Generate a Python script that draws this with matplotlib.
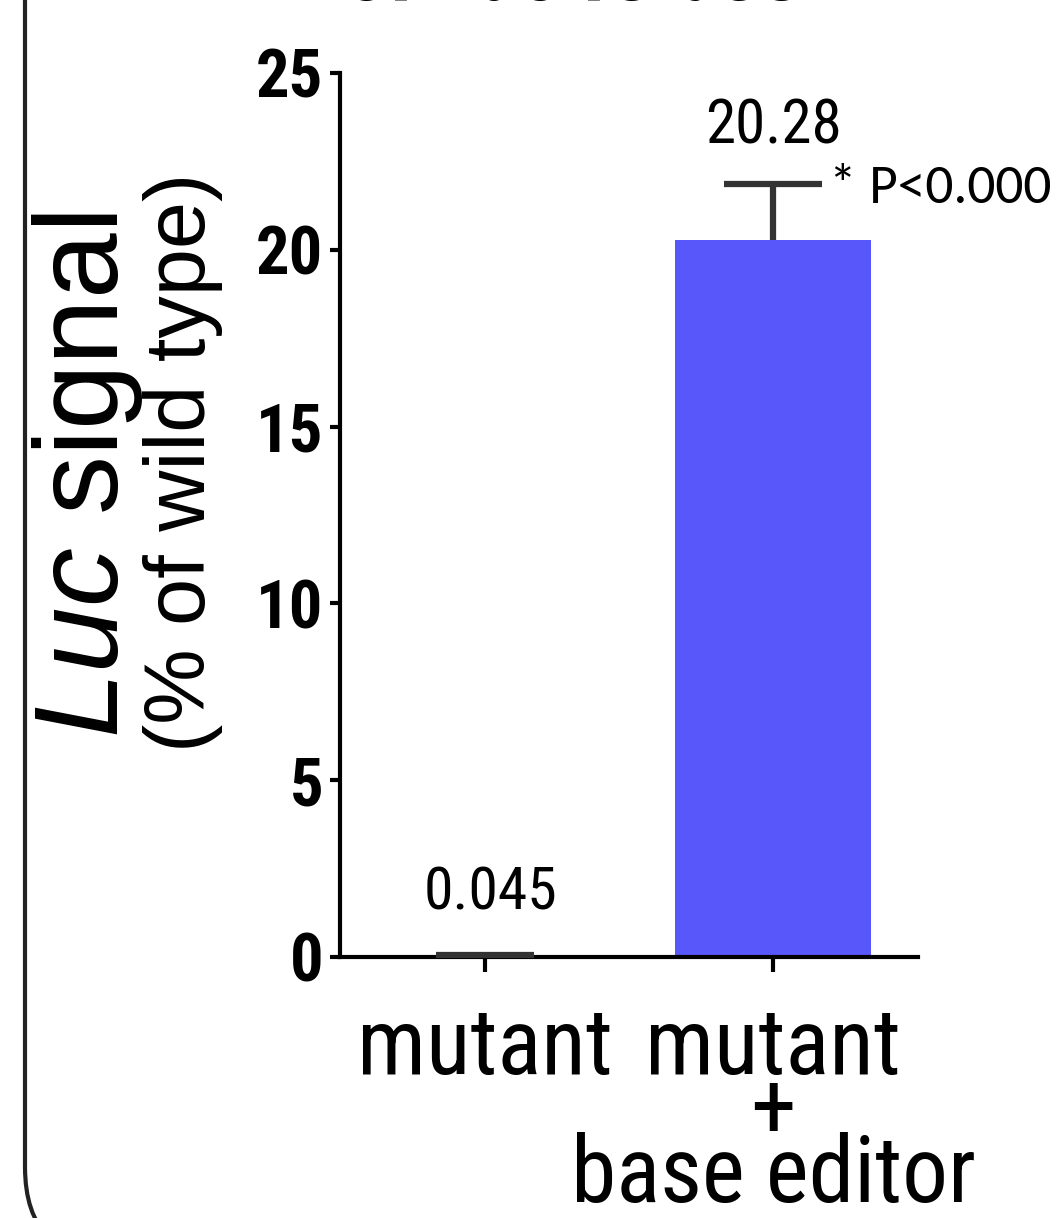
import matplotlib
matplotlib.use("Agg")
import matplotlib.pyplot as plt
from matplotlib.patches import FancyBboxPatch

# ---- data ----
categories = ["mutant", "mutant\n+\nbase editor"]
values = [0.045, 20.28]
errors = [0.0, 1.58]
value_labels = ["0.045", "20.28"]
yticks = [0, 5, 10, 15, 20, 25]
sig_label = "* P<0.0001"
title_text = "of Luciferase:"

NARROW = ["Roboto Condensed", "DejaVu Sans"]
REG = ["Liberation Sans", "DejaVu Sans"]
CAL = ["Carlito", "Liberation Sans", "DejaVu Sans"]

plt.rcParams["mathtext.fontset"] = "custom"
plt.rcParams["mathtext.it"] = "Liberation Sans:italic"
plt.rcParams["mathtext.rm"] = "Liberation Sans"

W, H = 1056, 1218
fig = plt.figure(figsize=(W / 100, H / 100), dpi=100)
ax = fig.add_axes([340 / W, 261 / H, 578 / W, 884 / H])

bar_color = "#5757FA"
x = list(range(len(categories)))
ax.bar(x, values, width=0.68, color=bar_color, zorder=2)
eb = ax.errorbar(x, values, yerr=[[0] * len(errors), errors], fmt="none",
                 ecolor="#333333", elinewidth=4.5, capsize=35, capthick=4.5,
                 zorder=3)
eb[1][0].set_visible(False)  # hide lower caps (SD shown above only)

ax.set_xlim(-0.503, 1.503)
ax.set_ylim(0, 25)
ax.set_yticks(yticks)
ax.set_yticklabels([str(t) for t in yticks], fontfamily=NARROW,
                   fontweight="bold", fontsize=48)
ax.set_xticks(x)
ax.set_xticklabels(categories, fontfamily=NARROW, fontsize=66,
                   linespacing=0.64, va="top")
ax.tick_params(axis="y", length=7, width=3, pad=5)
ax.tick_params(axis="x", length=11, width=3, pad=23)
for s in ["top", "right"]:
    ax.spines[s].set_visible(False)
for s in ["left", "bottom"]:
    ax.spines[s].set_linewidth(3)

ax.text(0.02, 1.33, value_labels[0], ha="center", va="baseline",
        fontfamily=NARROW, fontsize=43)
ax.text(1, 23.02, value_labels[1], ha="center", va="baseline",
        fontfamily=NARROW, fontsize=44)
ax.text(1.195, 21.32, sig_label, ha="left", va="baseline",
        fontfamily=CAL, fontsize=40, clip_on=False)

# y labels
fig.text(118 / W, 1 - 475 / H, r"$\mathit{Luc}$" + " signal", rotation=90,
         rotation_mode="anchor", ha="center", va="baseline",
         fontfamily=REG, fontsize=85)
fig.text(205 / W, 1 - 462 / H, "(% of wild type)", rotation=90,
         rotation_mode="anchor", ha="center", va="baseline",
         fontfamily=REG, fontsize=61)

# title (cut off at top, as in the reference)
fig.text(584 / W, 1.0, title_text, ha="center", va="baseline",
         fontfamily=NARROW, fontweight="bold", fontsize=62)

# rounded frame
frame = FancyBboxPatch((25 / W, -43 / H), 1200 / W, 1400 / H,
                       boxstyle="round,pad=0,rounding_size=0.089",
                       transform=fig.transFigure, fill=False,
                       edgecolor="#222222", lw=3, clip_on=False,
                       mutation_aspect=W / H)
fig.patches.append(frame)

fig.savefig("out.png", dpi=100)
